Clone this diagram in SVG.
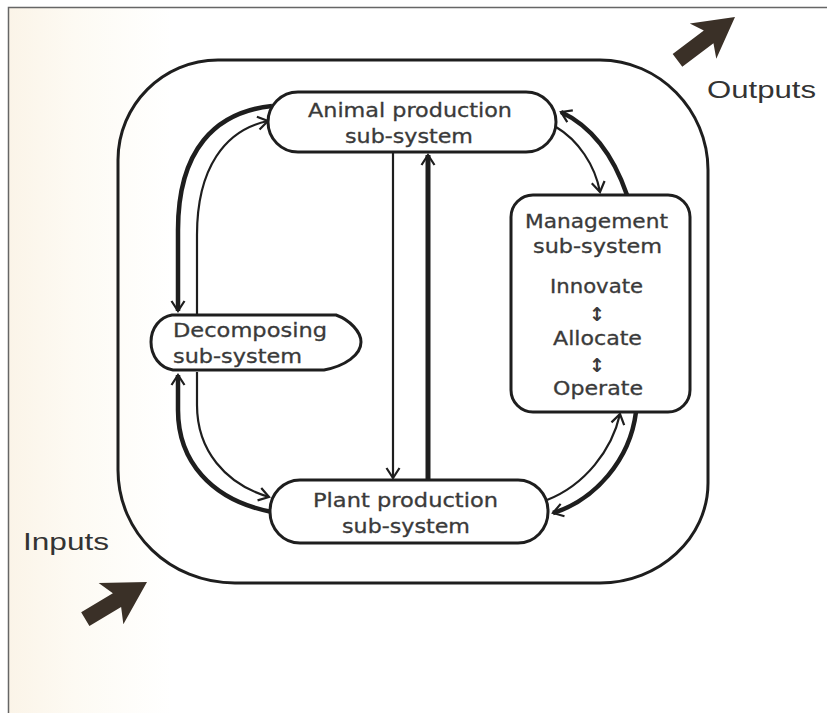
<svg xmlns="http://www.w3.org/2000/svg" width="827" height="713" viewBox="0 0 827 713">
<defs>
<linearGradient id="paper" x1="0" y1="0" x2="1" y2="0">
<stop offset="0" stop-color="#fbf4e8"/>
<stop offset="0.08" stop-color="#fdfaf3"/>
<stop offset="0.2" stop-color="#ffffff"/>
</linearGradient>
<marker id="ah" viewBox="-12 -8 14 16" refX="0" refY="0" markerWidth="14" markerHeight="16" markerUnits="userSpaceOnUse" orient="auto">
<path d="M -10 -6.5 L 0 0 L -10 6.5" fill="none" stroke="#1e1e1e" stroke-width="2.2"/>
</marker>
<style>
.node{fill:#ffffff;stroke:#1e1e1e;stroke-width:3}
.lbl{font-family:"DejaVu Sans","Liberation Sans",sans-serif;font-size:19px;fill:#3a3a3a;stroke:#3a3a3a;stroke-width:0.3}
.sym{font-family:"DejaVu Sans",sans-serif;font-size:19px;font-weight:bold;fill:#3a3a3a}
.big{font-family:"Liberation Sans","DejaVu Sans",sans-serif;font-size:23px;fill:#333333}
.thick{fill:none;stroke:#1e1e1e;stroke-width:4.5;marker-end:url(#ah)}
.thin{fill:none;stroke:#1e1e1e;stroke-width:2.2;marker-end:url(#ah)}
.barrow{fill:#3a3027}
</style>
</defs>
<rect x="0" y="0" width="827" height="713" fill="#ffffff"/>
<rect x="8" y="7" width="819" height="706" fill="url(#paper)"/>
<path d="M 8.5 713 V 7.5 H 827" fill="none" stroke="#666666" stroke-width="1.5"/>

<g id="system-boundary">
<path d="M 218 60 H 600 C 659 60 708 110 708 170 V 483 C 708 538 659 583 600 583 H 235 C 170 583 118 533 118 470 V 160 C 118 105 163 60 218 60 Z" fill="none" stroke="#1e1e1e" stroke-width="3"/>
</g>

<g id="connectors">
<path class="thick" d="M 272 106 C 215 112 178 150 178 230 V 311"/>
<path class="thin" d="M 197 314 V 235 C 197 168 225 130 268 121"/>
<path class="thick" d="M 272 512 C 210 500 178 460 178 410 V 375"/>
<path class="thin" d="M 197 372 V 405 C 197 450 225 484 269 497"/>
<path class="thin" d="M 393 152 V 478"/>
<path class="thick" style="stroke-width:5" d="M 428 480 V 155"/>
<path class="thick" d="M 627 195 C 615 160 595 128 561 112"/>
<path class="thin" d="M 556 127 C 578 140 595 165 600 192"/>
<path class="thick" d="M 636 412 C 630 460 595 500 553 513"/>
<path class="thin" d="M 547 500 C 585 485 612 450 620 414"/>
</g>

<g id="animal-production">
<rect class="node" x="268" y="92" width="288" height="60" rx="30" ry="30"/>
<text class="lbl" x="308" y="117" textLength="204" lengthAdjust="spacingAndGlyphs">Animal production</text>
<text class="lbl" x="345" y="143" textLength="128" lengthAdjust="spacingAndGlyphs">sub-system</text>
</g>

<g id="plant-production">
<rect class="node" x="270" y="480" width="278" height="63" rx="30" ry="31"/>
<text class="lbl" x="313" y="507" textLength="185" lengthAdjust="spacingAndGlyphs">Plant production</text>
<text class="lbl" x="342" y="533" textLength="128" lengthAdjust="spacingAndGlyphs">sub-system</text>
</g>

<g id="decomposing">
<path class="node" d="M 172 315 H 336 C 350 320 361 332 361 342 C 361 355 345 366 324 370 H 173 C 160 368 151 356 151 342 C 151 328 160 317 172 315 Z"/>
<text class="lbl" x="173" y="337" textLength="154" lengthAdjust="spacingAndGlyphs">Decomposing</text>
<text class="lbl" x="173" y="363" textLength="129" lengthAdjust="spacingAndGlyphs">sub-system</text>
</g>

<g id="management">
<rect class="node" x="511" y="195" width="179" height="217" rx="22" ry="22"/>
<text class="lbl" x="525" y="228" textLength="143" lengthAdjust="spacingAndGlyphs">Management</text>
<text class="lbl" x="533" y="253" textLength="129" lengthAdjust="spacingAndGlyphs">sub-system</text>
<text class="lbl" x="550" y="293" textLength="93" lengthAdjust="spacingAndGlyphs">Innovate</text>
<text class="sym" x="597" y="321" text-anchor="middle">↕</text>
<text class="lbl" x="553" y="345" textLength="89" lengthAdjust="spacingAndGlyphs">Allocate</text>
<text class="sym" x="597" y="372" text-anchor="middle">↕</text>
<text class="lbl" x="553" y="395" textLength="90" lengthAdjust="spacingAndGlyphs">Operate</text>
</g>

<g id="outputs">
<polygon class="barrow" transform="translate(735 17) rotate(-37)" points="0,0 -40,-22 -33,-8 -72,-8 -72,8 -33,8 -40,22"/>
<text class="big" x="707" y="98" textLength="109" lengthAdjust="spacingAndGlyphs">Outputs</text>
</g>

<g id="inputs">
<polygon class="barrow" transform="translate(147 582) rotate(-31)" points="0,0 -42,-24 -35,-8 -72,-8 -72,8 -35,8 -42,24"/>
<text class="big" x="23" y="550" textLength="86" lengthAdjust="spacingAndGlyphs">Inputs</text>
</g>
</svg>
